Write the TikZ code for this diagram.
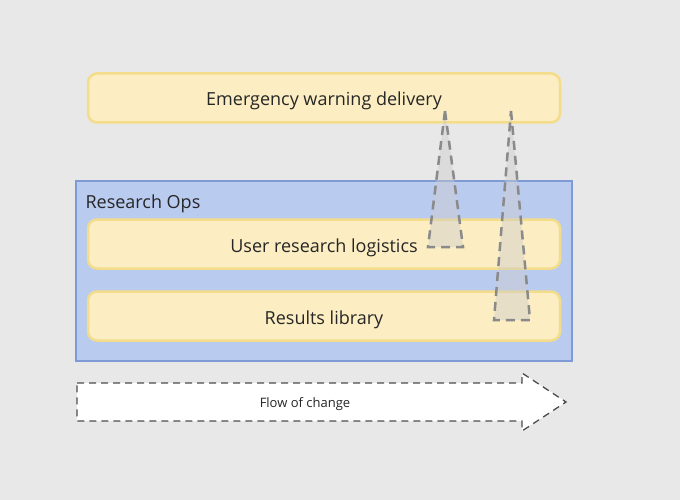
\documentclass[tikz,border=0pt]{standalone}
\usepackage{fontspec}
\setmainfont{Open Sans}
\usetikzlibrary{positioning}

\definecolor{bggray}{HTML}{E8E8E8}
\definecolor{boxfill}{HTML}{FCEEC2}
\definecolor{boxline}{HTML}{F3DC8A}
\definecolor{opsfill}{HTML}{BACBF0}
\definecolor{opsline}{HTML}{7E9BD6}
\definecolor{dashgray}{HTML}{8A8A8A}

\begin{document}
\begin{tikzpicture}[x=1pt,y=-1pt,
	yellowbox/.style={draw=boxline,fill=boxfill,line width=2.5pt,rounded corners=9pt,
		minimum width=472pt,minimum height=49pt,font=\fontsize{18}{21}\selectfont,text=black!85,
		text height=16pt,text depth=0pt},
	opsbox/.style={draw=opsline,fill=opsfill,line width=2pt,minimum width=496pt,minimum height=180pt},
	funnel/.style={draw=dashgray,fill=gray!40,fill opacity=0.45,draw opacity=1,line width=2.5pt,dash pattern=on 9pt off 6pt}]
	\fill[bggray] (0,0) rectangle (680,500);

	\node[opsbox] (ops) at (324,271) {};
	\node[anchor=west,font=\fontsize{18}{21}\selectfont,text=black!85,text height=14pt,text depth=0pt] (opslabel) at (82,201) {Research Ops};

	\begin{scope}[every node/.style={yellowbox}]
		\node (ewd) at (324,98) {Emergency warning delivery};
		\node (url) at (324,244) {User research logistics};
		\node (rl) at (324,316) {Results library};
	\end{scope}

	% change cones
	\draw[funnel] (445,111) -- (463,247) -- (428,247) -- cycle;
	\draw[funnel] (511,111) -- (530,320) -- (494,320) -- cycle;

	% flow arrow
	\draw[draw=black!70,fill=white,line width=1.3pt,dash pattern=on 7pt off 5pt]
		(77,383) -- (522,383) -- (522,373) -- (566,402) -- (522,431) -- (522,421) -- (77,421) -- cycle;
	\node[font=\fontsize{13}{15}\selectfont,text=black!85,text height=10pt,text depth=0pt] (flow) at (305,402) {Flow of change};
\end{tikzpicture}
\end{document}
